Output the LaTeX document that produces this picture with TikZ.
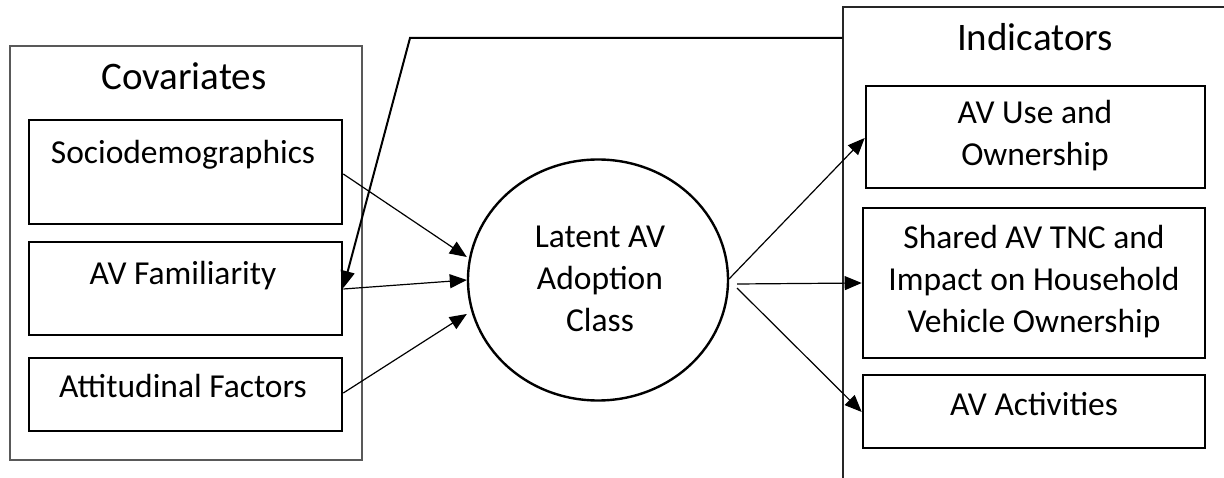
\documentclass[tikz,border=0pt]{standalone}
\usepackage{fontspec}
\setmainfont{Carlito}
\usetikzlibrary{arrows.meta,shapes.geometric}
\begin{document}
\begin{tikzpicture}[x=1pt,y=-1pt,
  inbox/.style={draw=black,line width=2.6pt,inner sep=0pt},
  txt/.style={font=\fontsize{33.5}{42}\selectfont,align=center,inner sep=0pt,anchor=base},
  ttl/.style={font=\fontsize{39}{46}\selectfont,inner sep=0pt,anchor=base},
  arr/.style={line width=1.2pt,-{Triangle[length=17pt,width=14pt]}},
]
\useasboundingbox (0,0) rectangle (1224,478);
\clip (0,0) rectangle (1224,478);
% outer boxes
\node[draw=black!65,line width=1.3pt,inner sep=0pt,minimum width=352pt,minimum height=414pt] (cov) at (186,253) {};
\node[draw=black!85,line width=1.1pt,inner sep=0pt,minimum width=420pt,minimum height=520pt] (ind) at (1053,267) {};
\node[ttl] (covt) at (184,90) {Covariates};
\node[ttl] (indt) at (1035,51) {Indicators};
% inner boxes left
\node[inbox,minimum width=313pt,minimum height=104pt] (socio) at (185.5,172) {};
\node[inbox,minimum width=313pt,minimum height=93pt] (fam) at (185.5,288.5) {};
\node[inbox,minimum width=313pt,minimum height=73pt] (att) at (185.5,394.5) {};
\node[txt] (sociot) at (183,164) {Sociodemographics};
\node[txt] (famt) at (183,285) {AV Familiarity};
\node[txt] (attt) at (183,398) {Attitudinal Factors};
% inner boxes right
\node[inbox,minimum width=339pt,minimum height=102pt] (use) at (1035.5,137) {};
\node[inbox,minimum width=342pt,minimum height=150pt] (shared) at (1034,283) {};
\node[inbox,minimum width=342pt,minimum height=73pt] (act) at (1034,411.5) {};
\node[txt] (uset) at (1035,166) {AV Use and\\Ownership};
\node[txt] (sharedt) at (1034,333) {Shared AV TNC and\\Impact on Household\\Vehicle Ownership};
\node[txt] (actt) at (1034,415) {AV Activities};
% latent class
\node[draw=black,line width=2.4pt,ellipse,minimum width=260pt,minimum height=241pt,inner sep=0pt] (lat) at (598,280) {};
\node[txt] (latt) at (600,332) {Latent AV\\Adoption\\Class};
% arrows in
\draw[arr] (socio.east|-0,174) -- (lat.west|-0,257);
\draw[arr] (fam.east|-0,289) -- (lat.west|-0,280);
\draw[arr] (att.east|-0,393) -- (lat.west|-0,314);
% arrows out
\coordinate (o1) at (729,279);
\coordinate (o2) at (737,284);
\coordinate (o3) at (737,288);
\draw[arr] (o1) -- (use.west|-0,138);
\draw[arr] (o2) -- (shared.west|-0,283);
\draw[arr] (o3) -- (act.west|-0,412);
% feedback
\coordinate (corner) at (410,38);
\draw[line width=2pt,-{Triangle[length=17pt,width=14pt]}] (ind.west|-0,38) -- (corner) -- (fam.east|-0,288);
\end{tikzpicture}
\end{document}
